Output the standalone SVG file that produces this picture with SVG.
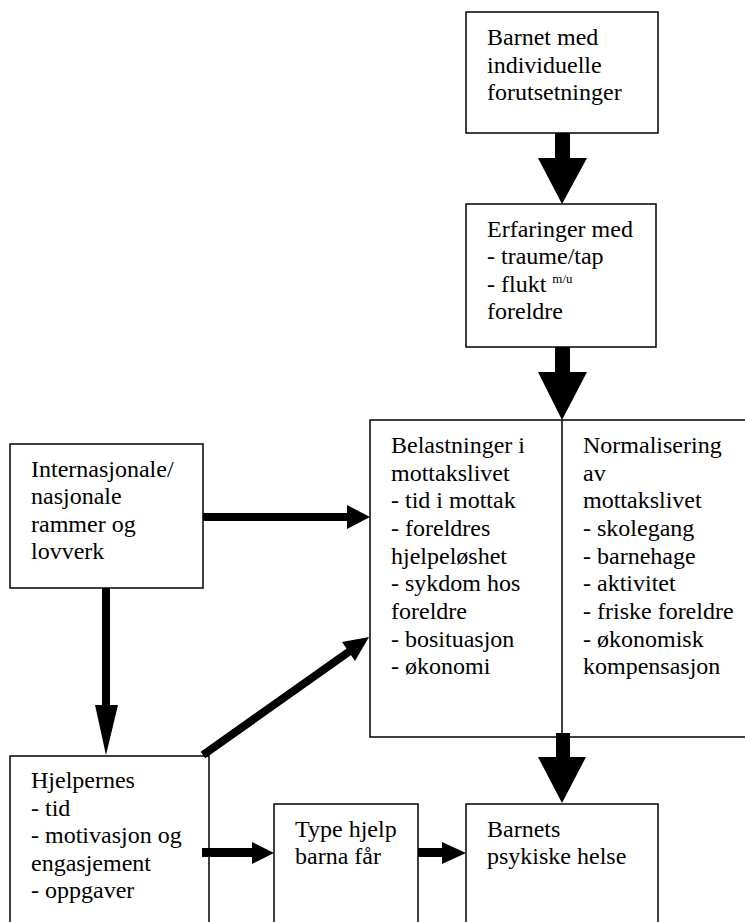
<svg xmlns="http://www.w3.org/2000/svg" width="745" height="922" viewBox="0 0 745 922">
<style>
.box{fill:#fff;stroke:#000;stroke-width:1.5}
text{font-family:'Liberation Serif','DejaVu Serif',serif;fill:#000}
.t{font-size:24px}
.sup{font-size:13px}
.shaft{stroke:#000;stroke-width:8;fill:none}
.head{fill:#000}
</style>
<rect width="745" height="922" fill="#fff"/>
<g id="barnet" font-family="Liberation Serif, serif">
<rect class="box" x="466" y="12" width="192" height="121"/>
<text class="t" x="487" y="45">Barnet med</text>
<text class="t" x="487" y="73">individuelle</text>
<text class="t" x="487" y="100">forutsetninger</text>
</g>
<g id="erfaringer">
<rect class="box" x="466" y="204" width="190" height="143"/>
<text class="t" x="487" y="237">Erfaringer med</text>
<text class="t" x="487" y="264">- traume/tap</text>
<text class="t" x="487" y="292">- flukt <tspan class="sup" dy="-9">m/u</tspan></text>
<text class="t" x="487" y="319">foreldre</text>
</g>
<g id="mottak">
<rect class="box" x="370" y="420" width="400" height="317"/>
<line x1="562" y1="420" x2="562" y2="737" stroke="#000" stroke-width="1.5"/>
<text class="t" x="391" y="453">Belastninger i</text>
<text class="t" x="391" y="481">mottakslivet</text>
<text class="t" x="391" y="508">- tid i mottak</text>
<text class="t" x="391" y="536">- foreldres</text>
<text class="t" x="391" y="564">hjelpeløshet</text>
<text class="t" x="391" y="591">- sykdom hos</text>
<text class="t" x="391" y="619">foreldre</text>
<text class="t" x="391" y="647">- bosituasjon</text>
<text class="t" x="391" y="674">- økonomi</text>
<text class="t" x="583" y="453">Normalisering</text>
<text class="t" x="583" y="481">av</text>
<text class="t" x="583" y="508">mottakslivet</text>
<text class="t" x="583" y="536">- skolegang</text>
<text class="t" x="583" y="564">- barnehage</text>
<text class="t" x="583" y="591">- aktivitet</text>
<text class="t" x="583" y="619">- friske foreldre</text>
<text class="t" x="583" y="647">- økonomisk</text>
<text class="t" x="583" y="674">kompensasjon</text>
</g>
<g id="rammer">
<rect class="box" x="10" y="444" width="193" height="144"/>
<text class="t" x="31" y="477">Internasjonale/</text>
<text class="t" x="31" y="504">nasjonale</text>
<text class="t" x="31" y="532">rammer og</text>
<text class="t" x="31" y="559">lovverk</text>
</g>
<g id="hjelpernes">
<rect class="box" x="10" y="756" width="199" height="180"/>
<text class="t" x="31" y="788">Hjelpernes</text>
<text class="t" x="31" y="816">- tid</text>
<text class="t" x="31" y="843">- motivasjon og</text>
<text class="t" x="31" y="871">engasjement</text>
<text class="t" x="31" y="898">- oppgaver</text>
</g>
<g id="typehjelp">
<rect class="box" x="274" y="804" width="144" height="130"/>
<text class="t" x="295" y="837">Type hjelp</text>
<text class="t" x="295" y="864">barna får</text>
</g>
<g id="helse">
<rect class="box" x="466" y="804" width="192" height="130"/>
<text class="t" x="487" y="837">Barnets</text>
<text class="t" x="487" y="864">psykiske helse</text>
</g>
<g id="connectors">
<rect class="head" x="555" y="133" width="15" height="26"/>
<polygon class="head" points="538,158 587,158 562,204"/>
<rect class="head" x="555" y="347" width="15" height="26"/>
<polygon class="head" points="538,372 587,372 562,420"/>
<rect class="head" x="556" y="733" width="14" height="25"/>
<polygon class="head" points="538,757 586,757 562,803"/>
<line class="shaft" x1="203" y1="517" x2="348" y2="517"/>
<polygon class="head" points="347,505 347,529 370,517"/>
<line class="shaft" x1="106" y1="588" x2="106" y2="706"/>
<polygon class="head" points="95,705 118,705 106,755"/>
<line class="shaft" x1="203" y1="755" x2="350" y2="651"/>
<polygon class="head" points="342,642 355,661 369,637"/>
<rect class="head" x="202" y="848" width="51" height="9"/>
<polygon class="head" points="252,842 252,864 274,853"/>
<rect class="head" x="418" y="848" width="25" height="9"/>
<polygon class="head" points="442,842 442,864 466,853"/>
</g>
</svg>
